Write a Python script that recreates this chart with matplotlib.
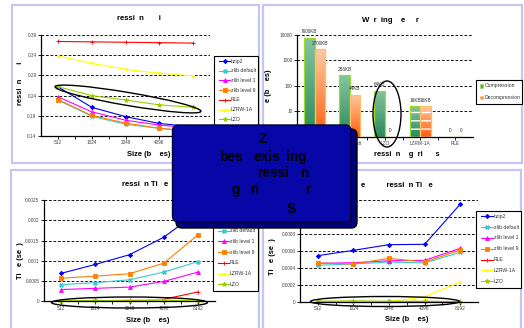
"""Four-panel compression benchmark slide with a blue call-out box."""
import matplotlib as mpl

mpl.use("Agg")

import matplotlib.pyplot as plt
import numpy as np
from matplotlib.colors import LinearSegmentedColormap
from matplotlib.lines import Line2D
from matplotlib.patches import Ellipse, FancyBboxPatch, Rectangle
from matplotlib.transforms import Affine2D

W, H = 524, 328

SIZES = ["512", "1024", "2048", "4096", "8192"]
SERIES = ["bzip2", "zlib default", "zlib level 1", "zlib level 9", "RLE", "LZRW-1A", "LZO"]

RATIO = {
    "bzip2": [0.262, 0.211, 0.188, 0.171, 0.163],
    "zlib default": [0.229, 0.189, 0.169, 0.159, 0.151],
    "zlib level 1": [0.237, 0.200, 0.179, 0.167, 0.160],
    "zlib level 9": [0.230, 0.191, 0.172, 0.159, 0.152],
    "RLE": [0.374, 0.373, 0.372, 0.371, 0.370],
    "LZRW-1A": [0.338, 0.320, 0.305, 0.295, 0.289],
    "LZO": [0.262, 0.240, 0.229, 0.217, 0.211],
}

COMP_TIME = {
    "bzip2": [0.00069, 0.00091, 0.00115, 0.00158, 0.0022],
    "zlib default": [0.00041, 0.00046, 0.00053, 0.00072, 0.00098],
    "zlib level 1": [0.00029, 0.00032, 0.00035, 0.00049, 0.00072],
    "zlib level 9": [0.00057, 0.00062, 0.00068, 0.00094, 0.00164],
    "RLE": [0.00001, 0.00001, 0.00002, 0.00005, 0.00023],
    "LZRW-1A": [0.00001, 0.00002, 0.00004, 0.00004, 0.00001],
    "LZO": [0.00001, 0.00002, 0.00001, 0.00003, 0.0],
}

DECOMP_TIME = {
    "bzip2": [0.000543, 0.000606, 0.000673, 0.000677, 0.00115],
    "zlib default": [0.00043, 0.000445, 0.000468, 0.000457, 0.000583],
    "zlib level 1": [0.000453, 0.00046, 0.000484, 0.000488, 0.00063],
    "zlib level 9": [0.000457, 0.000445, 0.000512, 0.000468, 0.00061],
    "RLE": [0.000003, 0.000003, 0.000003, 0.000003, 0.000003],
    "LZRW-1A": [0.0, 0.0, 0.0, 0.000059, 0.000229],
    "LZO": [0.000005, 0.00001, 0.000005, 0.000005, 0.0],
}

ALGOS = ["bzip2", "zlib default", "LZO", "LZRW-1A", "RLE"]
MEM_COMP = [7600, 256, 64, 16, 0]
MEM_DECOMP = [2700, 44, 0, 16, 0]

RATIO_TICKS = [0.14, 0.19, 0.24, 0.29, 0.34, 0.39]
CTIME_TICKS = [0, 0.0005, 0.001, 0.0015, 0.002, 0.0025]
CTIME_LABELS = ["0", "0.0005", "0.001", "0.0015", "0.002", "0.0025"]
DTIME_TICKS = [0, 0.0002, 0.0004, 0.0006, 0.0008, 0.001, 0.0012]
DTIME_LABELS = ["0", "0.0002", "0.0004", "0.0006", "0.0008", "0.001", "0.0012"]
MEM_TICKS = [1, 10, 100, 1000, 10000]

STYLE = {
    "bzip2": dict(color="#0000ff", marker="D", ms=2.2),
    "zlib default": dict(color="#33cccc", marker="X", ms=2.8),
    "zlib level 1": dict(color="#ff00ff", marker="^", ms=2.8),
    "zlib level 9": dict(color="#ff7f00", marker="s", ms=2.2),
    "RLE": dict(color="#ff0000", marker="+", ms=3.5),
    "LZRW-1A": dict(color="#ffff00", marker="s", ms=1.8),
    "LZO": dict(color="#99cc00", marker="*", ms=3.5),
}

plt.rcParams["font.family"] = ["Liberation Sans", "DejaVu Sans"]

fig = plt.figure(figsize=(W / 100, H / 100), dpi=100)
fig.patch.set_facecolor("white")
PX = Affine2D().scale(1 / W, -1 / H).translate(0, 1) + fig.transFigure


def ftext(x, y, s, **kw):
    kw.setdefault("ha", "left")
    kw.setdefault("va", "center")
    return fig.text(x / W, 1 - y / H, s, **kw)


def add_axes_px(l, t, r, b):
    return fig.add_axes([l / W, 1 - b / H, (r - l) / W, (b - t) / H])


def panel(l, t, r, b):
    fig.add_artist(Rectangle((l, t), r - l, b - t, transform=PX, facecolor="white",
                             edgecolor="#c6c6f4", lw=1.6, zorder=-1))


def style_axes(ax):
    ax.set_facecolor("none")
    for side in ("top", "right"):
        ax.spines[side].set_visible(False)
    for side in ("left", "bottom"):
        ax.spines[side].set_linewidth(0.9)
    ax.tick_params(axis="both", which="major", labelsize=3.4, labelcolor="#444444",
                   length=2, width=0.6, pad=1.2)
    ax.yaxis.grid(True, color="black", linestyle=(0, (3, 2)), linewidth=0.65)
    ax.set_axisbelow(True)


def category_x(ax, labels):
    n = len(labels)
    ax.set_xlim(-0.5, n - 0.5)
    ax.set_xticks(np.arange(n), labels)
    ax.set_xticks(np.arange(0.5, n - 0.5, 1), minor=True)
    ax.tick_params(axis="x", which="major", length=0, pad=4)
    ax.tick_params(axis="x", which="minor", length=2, width=0.6)


def line_chart(ax, data):
    x = np.arange(len(SIZES))
    for name in SERIES:
        st = STYLE[name]
        ax.plot(x, data[name], color=st["color"], marker=st["marker"], ms=st["ms"],
                mew=0.6, lw=0.8, clip_on=False)
    category_x(ax, SIZES)
    style_axes(ax)


def line_legend(l, t, r, b, y0, dy, h0, h1):
    fig.add_artist(Rectangle((l, t), r - l, b - t, transform=PX, facecolor="white",
                             edgecolor="black", lw=0.8, zorder=5))
    for i, name in enumerate(SERIES):
        st = STYLE[name]
        y = y0 + i * dy
        fig.add_artist(Line2D([h0, h1], [y, y], transform=PX, color=st["color"], lw=0.8,
                              zorder=6))
        fig.add_artist(Line2D([(h0 + h1) / 2], [y], transform=PX, color=st["color"],
                              marker=st["marker"], ms=st["ms"], mew=0.6, zorder=6))
        ftext(h1 + 1, y, name, fontsize=3.7, color="#333333", zorder=6)


# panel frames
panel(12, 5, 259, 163)
panel(263, 5, 522, 163)
panel(11, 170, 259, 345)
panel(263, 170, 521, 345)

# compression ratio
ax_r = add_axes_px(41, 35, 210, 136)
line_chart(ax_r, RATIO)
ax_r.set_ylim(RATIO_TICKS[0], RATIO_TICKS[-1])
ax_r.set_yticks(RATIO_TICKS, [f"{v:.2f}" for v in RATIO_TICKS])
line_legend(214, 56, 258, 127, 61, 9.7, 219, 230)
ftext(117, 18.3, "ressi  n       i", fontsize=5.6, fontweight="bold")
ftext(127, 155, "Size (b    es)", fontsize=5.4, fontweight="bold")
ftext(20, 83, "ressi  n       i", fontsize=5.4, fontweight="bold", rotation=90, ha="center")

# compression time
ax_c = add_axes_px(44, 200, 215, 301.3)
line_chart(ax_c, COMP_TIME)
ax_c.set_ylim(CTIME_TICKS[0], CTIME_TICKS[-1])
ax_c.set_yticks(CTIME_TICKS, CTIME_LABELS)
line_legend(213, 214, 258, 291, 220, 10.7, 218, 229)
ftext(121.7, 184.7, "ressi  n Ti   e", fontsize=5.6, fontweight="bold")
ftext(125.5, 320, "Size (b    es)", fontsize=5.4, fontweight="bold")
ftext(20, 261, "Ti   e (se  )", fontsize=5.4, fontweight="bold", rotation=90, ha="center")

# decompression time
ax_d = add_axes_px(300, 200, 478, 301.7)
line_chart(ax_d, DECOMP_TIME)
ax_d.set_ylim(DTIME_TICKS[0], DTIME_TICKS[-1])
ax_d.set_yticks(DTIME_TICKS, DTIME_LABELS)
line_legend(476, 210.7, 521, 288, 216.3, 10.8, 480.5, 492.5)
ftext(361, 185.7, "e          ressi  n Ti   e", fontsize=5.6, fontweight="bold")
ftext(385, 319.7, "Size (b    es)", fontsize=5.4, fontweight="bold")
ftext(272, 257, "Ti   e (se  )", fontsize=5.4, fontweight="bold", rotation=90, ha="center")

# working memory bars
ax_m = add_axes_px(297, 34.7, 473, 137)
ax_m.set_yscale("log")
ax_m.set_ylim(MEM_TICKS[0], MEM_TICKS[-1])
ax_m.set_yticks(MEM_TICKS, ["1", "10", "100", "1000", "10000"])
ax_m.yaxis.set_minor_locator(mpl.ticker.NullLocator())
category_x(ax_m, ALGOS)
style_axes(ax_m)

xb = np.arange(len(ALGOS))
bw = 0.3
green = LinearSegmentedColormap.from_list("g", ["#2a8a58", "#86c4a2"])
orange = LinearSegmentedColormap.from_list("o", ["#ff5f0f", "#ffc9a2"])
to_axes = ax_m.transScale + ax_m.transLimits
grad = np.linspace(0, 1, 64).reshape(-1, 1)
for vals, offset, cmap, edge in ((MEM_COMP, -bw, green, "#9edc2c"),
                                 (MEM_DECOMP, 0.0, orange, "#ffc060")):
    heights = [v - 1 if v > 0 else 0 for v in vals]
    bars = ax_m.bar(xb + offset, heights, bw, bottom=1, align="edge", color="none",
                    edgecolor=edge, linewidth=0.9, zorder=3)
    for bar, v, h in zip(bars, vals, heights):
        cx = bar.get_x() + bar.get_width() / 2
        if v > 0:
            (x0, y0), (x1, y1) = to_axes.transform([(bar.get_x(), 1),
                                                    (bar.get_x() + bar.get_width(), v)])
            im = ax_m.imshow(grad, cmap=cmap, origin="lower", aspect="auto",
                             extent=[x0, x1, y0, y1], transform=ax_m.transAxes, zorder=2)
            im.set_clip_path(bar)
        ax_m.annotate(f"{v}KB" if v else "0", (cx, max(v, 1)), xytext=(0, 2.5 if v else 3),
                      textcoords="offset points", ha="center", va="bottom",
                      fontsize=3.4, color="#333333")
    # white banding seen on the LZRW-1A bars
    ax_m.bar(xb[3] + offset, heights[3], bw, bottom=1, align="edge", color="none",
             edgecolor="white", hatch="--", linewidth=0, zorder=2.5)
ax_m.set_xlim(-0.5, len(ALGOS) - 0.5)
ax_m.set_ylim(MEM_TICKS[0], MEM_TICKS[-1])

fig.add_artist(Rectangle((476, 80), 46, 24, transform=PX, facecolor="white",
                         edgecolor="black", lw=0.8, zorder=5))
for y, lab, col in ((86, "Compression", "#4cae6e"), (97.7, "Decompression", "#ff8a40")):
    fig.add_artist(Rectangle((479.5, y - 1.7), 3.4, 3.4, transform=PX, facecolor=col,
                             edgecolor="#9edc2c" if lab == "Compression" else "#ffc060",
                             lw=0.4, zorder=6))
    ftext(484.5, y, lab, fontsize=3.7, color="#333333", zorder=6)
ftext(362, 20, "W  r  ing    e     r", fontsize=5.6, fontweight="bold")
ftext(374, 155, "ressi  n    g  ri      s", fontsize=5.4, fontweight="bold")
ftext(269, 86, "e (b    es)", fontsize=5.4, fontweight="bold", rotation=90, ha="center")

# highlight ellipses
for (cx, cy, w, h, ang) in ((128, 99, 148, 13, 9.6), (387, 114, 28, 66, 0),
                            (129.5, 302.5, 156, 11, 0), (385, 301.5, 149, 10, 0)):
    fig.add_artist(Ellipse((cx, cy), w, h, angle=ang, transform=PX, fill=False,
                           edgecolor="black", lw=1.0, zorder=7))

# call-out box
fig.add_artist(FancyBboxPatch((176, 129), 181, 99, boxstyle="round,pad=0,rounding_size=6",
                              transform=PX, facecolor="#00007a", edgecolor="black",
                              lw=1.0, zorder=8))
fig.add_artist(FancyBboxPatch((172.5, 125), 178.5, 97, boxstyle="round,pad=0,rounding_size=6",
                              transform=PX, facecolor="#0707a8", edgecolor="#000033",
                              lw=1.0, zorder=9))
for x, y, s in ((259, 143, "Z"), (219, 161, "bes"), (254, 161, "exis"), (286, 161, "ing"),
                (257, 177, "ressi"), (300, 177, "n"), (232, 194, "g"), (250, 194, "ri"),
                (305, 194, "r"), (287, 213, "S")):
    ftext(x, y, s, fontsize=9.8, fontweight="bold", color="black", va="baseline", zorder=10)

fig.savefig("out.png", dpi=100, facecolor="white")
